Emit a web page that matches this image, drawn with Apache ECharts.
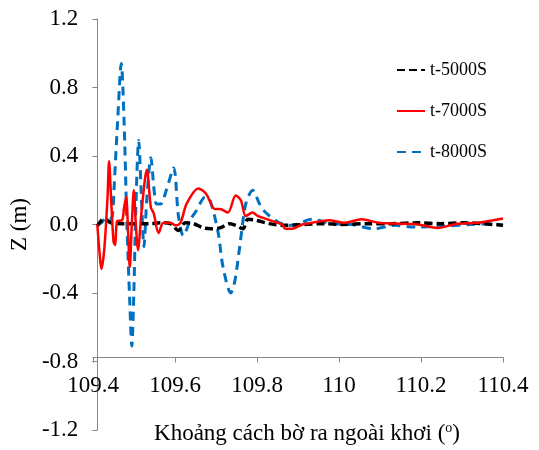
<!DOCTYPE html>
<html>
<head>
<meta charset="utf-8">
<script src="https://cdn.jsdelivr.net/npm/echarts@6/dist/echarts.min.js"></script>
<style>html,body{margin:0;padding:0;background:#fff}#c{width:539px;height:450px}</style>
</head>
<body>
<div id="c"></div>
<script>
var xTicks = [109.4, 109.6, 109.8, 110, 110.2, 110.4];
var yTicks = [-1.2, -0.8, -0.4, 0.0, 0.4, 0.8, 1.2];
var seriesNames = ['t-5000S', 't-7000S', 't-8000S'];

var t5000 = [
  [109.400,-0.010],[109.417,0.035],[109.434,0.010],[109.459,0.005],[109.478,0.005],
  [109.498,0.005],[109.532,0.005],[109.556,0.010],[109.580,0.005],[109.600,-0.035],
  [109.617,0.010],[109.637,0.005],[109.661,-0.020],[109.680,-0.025],[109.702,-0.020],
  [109.727,0.005],[109.741,-0.005],[109.759,-0.025],[109.771,0.030],[109.790,0.025],
  [109.824,0.005],[109.856,-0.005],[109.961,0.005],[110.002,0.000],[110.068,0.005],
  [110.124,0.005],[110.190,0.010],[110.246,0.005],[110.302,0.010],[110.400,-0.005]
];
var t7000 = [
  [109.400,0.000],[109.405,-0.150],[109.410,-0.260],[109.417,-0.150],[109.425,0.150],
  [109.429,0.370],[109.434,0.150],[109.440,-0.100],[109.444,-0.120],[109.449,0.020],
  [109.461,0.025],[109.466,0.100],[109.471,0.160],[109.476,-0.050],[109.480,-0.250],
  [109.485,0.000],[109.490,0.200],[109.495,0.000],[109.500,-0.150],[109.510,0.100],
  [109.522,0.320],[109.532,0.100],[109.539,0.065],[109.551,-0.050],[109.563,0.010],
  [109.580,0.010],[109.593,-0.005],[109.605,0.010],[109.620,0.120],[109.649,0.210],
  [109.668,0.180],[109.690,0.090],[109.702,0.090],[109.722,0.070],[109.741,0.170],
  [109.754,0.140],[109.766,0.050],[109.783,0.070],[109.795,0.050],[109.807,0.040],
  [109.832,0.020],[109.856,0.000],[109.863,-0.025],[109.880,-0.025],[109.905,0.000],
  [109.929,0.010],[109.971,0.025],[110.010,0.010],[110.051,0.030],[110.093,0.010],
  [110.149,0.005],[110.190,0.000],[110.239,-0.020],[110.288,0.005],[110.337,0.010],
  [110.400,0.035]
];
var t8000 = [
  [109.400,0.000],[109.410,0.010],[109.420,0.035],[109.430,0.030],[109.437,0.050],
  [109.441,0.200],[109.450,0.600],[109.459,0.940],[109.466,0.600],[109.473,0.000],
  [109.480,-0.450],[109.485,-0.710],[109.490,-0.400],[109.495,0.100],[109.502,0.490],
  [109.508,0.200],[109.515,-0.130],[109.522,0.150],[109.532,0.390],[109.540,0.200],
  [109.546,0.120],[109.556,0.120],[109.570,0.200],[109.588,0.330],[109.600,0.050],
  [109.612,-0.065],[109.630,0.030],[109.644,0.080],[109.666,0.160],[109.678,0.140],
  [109.698,-0.050],[109.710,-0.250],[109.729,-0.400],[109.739,-0.330],[109.751,-0.130],
  [109.766,0.120],[109.783,0.200],[109.800,0.120],[109.815,0.070],[109.849,0.010],
  [109.880,-0.005],[109.929,0.030],[109.978,0.005],[110.027,0.000],[110.083,-0.025],
  [110.132,-0.005],[110.180,-0.015],[110.246,-0.010],[110.320,0.000],[110.368,0.005],
  [110.400,-0.005]
];

var FONT = "'Liberation Serif','Times New Roman',serif";
var axisColor = '#868686';
var chart = echarts.init(document.getElementById('c'), null, {renderer: 'canvas'});
chart.setOption({
  animation: false,
  backgroundColor: '#fff',
  textStyle: {fontFamily: FONT, color: '#000'},
  grid: [
    {left: 93, right: 36, top: 19, bottom: 20, containLabel: false},
    {left: 93, right: 36, top: 19, height: 342, containLabel: false}
  ],
  xAxis: [
    {gridIndex: 0, type: 'value', min: xTicks[0], max: xTicks[xTicks.length-1], interval: 0.2, show: false},
    {gridIndex: 1, type: 'value', min: xTicks[0], max: xTicks[xTicks.length-1], interval: 0.2,
     axisLine: {show: true, onZero: false, lineStyle: {color: axisColor, width: 1}},
     axisTick: {show: true, inside: false, length: 5, lineStyle: {color: axisColor}},
     splitLine: {show: false},
     axisLabel: {fontFamily: FONT, fontSize: 23, color: '#000', margin: 17},
     name: 'Khoảng cách bờ ra ngoài khơi ({sup|o})',
     nameLocation: 'middle', nameGap: 64,
     nameTextStyle: {fontFamily: FONT, fontSize: 23, color: '#000', padding: [0, 0, 0, 18],
       rich: {sup: {fontFamily: FONT, fontSize: 14, color: '#000', padding: [0, 0, 10, 0]}}}
    }
  ],
  yAxis: [
    {gridIndex: 0, type: 'value', min: yTicks[0], max: yTicks[yTicks.length-1], interval: 0.4,
     axisLine: {show: true, onZero: false, lineStyle: {color: axisColor, width: 1}},
     axisTick: {show: true, inside: false, length: 5, lineStyle: {color: axisColor}},
     splitLine: {show: false},
     axisLabel: {fontFamily: FONT, fontSize: 23, color: '#000', margin: 19,
       formatter: function (v) { return v.toFixed(1); }},
     name: 'Z (m)', nameLocation: 'middle', nameGap: 59, nameRotate: 90,
     nameTextStyle: {fontFamily: FONT, fontSize: 23, color: '#000'}
    },
    {gridIndex: 1, type: 'value', min: -0.8, max: 1.2, show: false}
  ],
  legend: {
    orient: 'vertical', left: 391, top: 56, itemGap: 23, itemWidth: 28, itemHeight: 14,
    itemStyle: {opacity: 0},
    textStyle: {fontFamily: FONT, fontSize: 18, color: '#000'},
    data: seriesNames
  },
  series: [
    {name: seriesNames[0], type: 'line', xAxisIndex: 0, yAxisIndex: 0, data: t5000,
     symbol: 'none', smooth: 0.3, z: 3,
     lineStyle: {color: '#000', width: 3.5, type: [8, 4]}, itemStyle: {color: '#000'}},
    {name: seriesNames[1], type: 'line', xAxisIndex: 0, yAxisIndex: 0, data: t7000,
     symbol: 'none', smooth: 0.3, z: 4,
     lineStyle: {color: '#ff0000', width: 2.5}, itemStyle: {color: '#ff0000'}},
    {name: seriesNames[2], type: 'line', xAxisIndex: 0, yAxisIndex: 0, data: t8000,
     symbol: 'none', smooth: 0.3, z: 2,
     lineStyle: {color: '#0070c0', width: 3, type: [9, 6]}, itemStyle: {color: '#0070c0'}}
  ]
});
</script>
</body>
</html>
